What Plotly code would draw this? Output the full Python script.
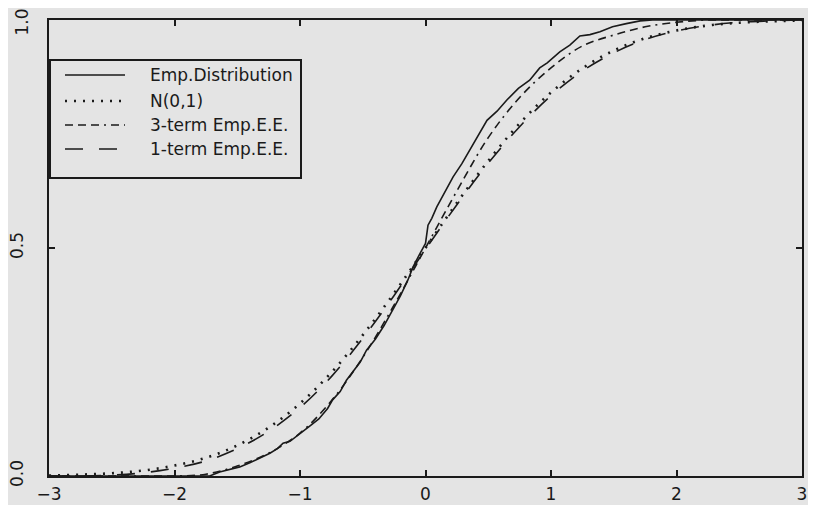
import plotly.graph_objects as go

# ---------------- data ----------------
x_grid = [-3.0, -2.75, -2.5, -2.25, -2.0, -1.75, -1.5, -1.25, -1.0, -0.75, -0.5, -0.25,
          0.0, 0.25, 0.5, 0.75, 1.0, 1.25, 1.5, 1.75, 2.0, 2.25, 2.5, 2.75, 3.0]

normal_cdf = [0.001, 0.003, 0.006, 0.012, 0.023, 0.040, 0.067, 0.106, 0.159, 0.227, 0.309, 0.401,
              0.500, 0.599, 0.691, 0.773, 0.841, 0.894, 0.933, 0.960, 0.977, 0.988, 0.994, 0.997, 0.999]

one_term = [0.000, 0.000, 0.002, 0.007, 0.017, 0.033, 0.060, 0.098, 0.150, 0.218, 0.302, 0.396,
            0.497, 0.595, 0.686, 0.766, 0.834, 0.888, 0.928, 0.957, 0.976, 0.988, 0.995, 0.998, 1.000]

three_term = [0.000, 0.000, 0.000, 0.000, 0.000, 0.004, 0.022, 0.050, 0.094, 0.165, 0.260, 0.375,
              0.500, 0.625, 0.742, 0.830, 0.895, 0.943, 0.967, 0.985, 0.995, 1.000, 1.000, 1.000, 1.000]

emp_x = [-3.0, -1.72, -1.64, -1.55, -1.48, -1.40, -1.33, -1.24, -1.18, -1.135, -1.08, -1.02,
         -0.96, -0.92, -0.85, -0.78, -0.74, -0.68, -0.63, -0.57, -0.52, -0.47, -0.40, -0.33,
         -0.26, -0.20, -0.14, -0.10, -0.04, 0.00, 0.02, 0.05, 0.09, 0.15, 0.22, 0.29, 0.355,
         0.42, 0.49, 0.57, 0.65, 0.74, 0.83, 0.91, 0.97, 1.07, 1.15, 1.23, 1.31, 1.39, 1.49,
         1.60, 1.71, 1.81, 2.3, 3.0]
emp_y = [0.0, 0.0, 0.009, 0.016, 0.020, 0.029, 0.038, 0.050, 0.060, 0.072, 0.076, 0.088,
         0.100, 0.110, 0.125, 0.148, 0.167, 0.185, 0.210, 0.232, 0.250, 0.276, 0.300, 0.330,
         0.364, 0.395, 0.430, 0.458, 0.490, 0.510, 0.550, 0.565, 0.590, 0.620, 0.656, 0.685, 0.715,
         0.745, 0.780, 0.800, 0.825, 0.850, 0.868, 0.895, 0.906, 0.930, 0.945, 0.965, 0.968, 0.974, 0.985,
         0.992, 0.998, 1.0, 1.0, 1.0]

x_ticks = [-3, -2, -1, 0, 1, 2, 3]
y_ticks = [0, 0.5, 1]
y_tick_labels = ["0.0", "0.5", "1.0"]

series_names = ["Emp.Distribution", "N(0,1)", "3-term Emp.E.E.", "1-term Emp.E.E."]

# ---------------- styles ----------------
BG = "#e4e4e4"
INK = "#1a1a1a"
FONT = "DejaVu Sans"
dash_styles = ["solid", "2px,7px", "8px,5px,8px,5px,8px,5px,2px,5px", "18px,16px"]
widths = [1.6, 2.6, 1.6, 1.6]

fig = go.Figure()
fig.add_trace(go.Scatter(x=emp_x, y=emp_y, mode="lines", name=series_names[0],
                         line=dict(color=INK, width=widths[0], dash=dash_styles[0])))
fig.add_trace(go.Scatter(x=x_grid, y=normal_cdf, mode="lines", name=series_names[1],
                         line=dict(color=INK, width=widths[1], dash=dash_styles[1], shape="spline")))
fig.add_trace(go.Scatter(x=x_grid, y=three_term, mode="lines", name=series_names[2],
                         line=dict(color=INK, width=widths[2], dash=dash_styles[2], shape="spline")))
fig.add_trace(go.Scatter(x=x_grid, y=one_term, mode="lines", name=series_names[3],
                         line=dict(color=INK, width=widths[3], dash=dash_styles[3], shape="spline")))
# empty trace that only carries the helper axis for the top tick label
fig.add_trace(go.Scatter(x=[], y=[], yaxis="y2", showlegend=False, hoverinfo="skip"))

# ---------------- legend drawn in paper coordinates ----------------
W_PLOT, H_PLOT = 753.0, 456.0
def px_x(p):
    return p / W_PLOT
def px_y(p):
    return 1 - p / H_PLOT

box_left, box_right = px_x(1), px_x(252)
box_top, box_bottom = px_y(40), px_y(158)
fig.add_shape(type="rect", xref="paper", yref="paper", x0=box_left, x1=box_right,
              y0=box_bottom, y1=box_top, line=dict(color=INK, width=2), fillcolor=BG, layer="above")
row_y = [55, 81, 105, 129]
for name, dash, w, ry in zip(series_names, dash_styles, widths, row_y):
    fig.add_shape(type="line", xref="paper", yref="paper", x0=px_x(16), x1=px_x(76),
                  y0=px_y(ry), y1=px_y(ry), layer="above",
                  line=dict(color=INK, width=w, dash=dash))
    fig.add_annotation(xref="paper", yref="paper", x=px_x(99), y=px_y(ry), text=name,
                       showarrow=False, xanchor="left", yanchor="middle",
                       font=dict(family=FONT, size=17, color=INK))

# page body has an 8px default margin, so the figure is 8px smaller and shifted
fig.update_layout(
    width=808, height=497,
    margin=dict(l=41, r=14, t=12, b=29),
    paper_bgcolor=BG, plot_bgcolor=BG,
    showlegend=False,
    font=dict(family=FONT, size=17, color=INK),
    yaxis2=dict(overlaying="y", side="left", anchor="x", range=[0, 1],
                tickvals=[y_ticks[-1] - 0.01], ticktext=[y_tick_labels[-1]],
                tickangle=-90, ticks="", showline=False, showgrid=False, zeroline=False,
                ticklabelstandoff=17, automargin=False, ticklabeloverflow="allow",
                tickfont=dict(family=FONT, size=17, color=INK)),
)
fig.update_xaxes(range=[-3, 3], tickvals=x_ticks, ticks="inside", ticklen=6, tickwidth=1.5,
                 tickcolor=INK, showline=True, linecolor=INK, linewidth=2, mirror="ticks",
                 showgrid=False, zeroline=False, ticklabelstandoff=2, automargin=False,
                 ticklabeloverflow="allow")
fig.update_yaxes(selector=dict(overlaying=None), range=[0, 1], tickvals=y_ticks,
                 ticktext=y_tick_labels[:-1] + [""], tickangle=-90,
                 ticks="inside", ticklen=6, tickwidth=1.5, tickcolor=INK, showline=True,
                 linecolor=INK, linewidth=2, mirror="ticks", showgrid=False, zeroline=False,
                 ticklabelstandoff=17, automargin=False, ticklabeloverflow="allow")

fig.write_html("out.html")
